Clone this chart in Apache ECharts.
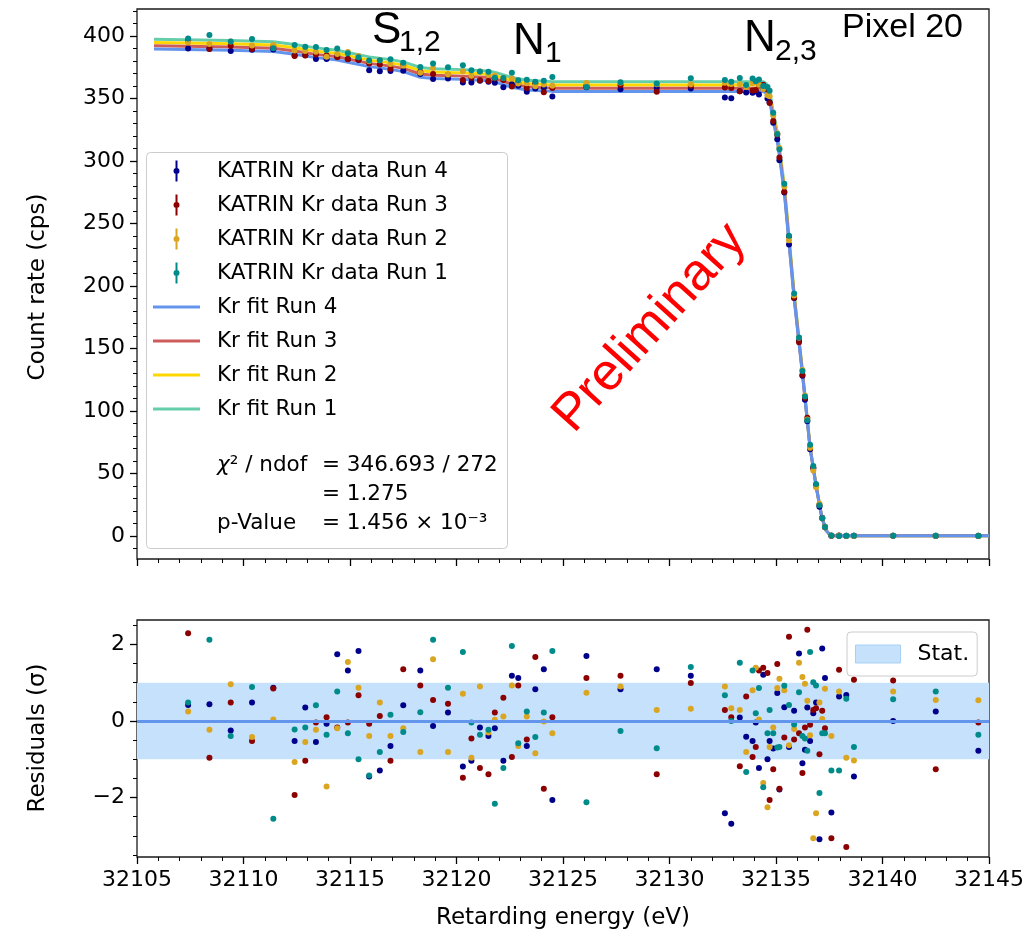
<!DOCTYPE html>
<html><head><meta charset="utf-8">
<script src="https://cdn.jsdelivr.net/npm/echarts@6/dist/echarts.min.js"></script>
<style>html,body{margin:0;padding:0;background:#fff}#c{width:1036px;height:939px}</style>
</head><body><div id="c"></div>
<script>
// ---------- data ----------
const energy = [32107.4,32108.4,32109.4,32110.4,32111.4,32112.4,32112.9,32113.4,32113.9,32114.4,
32114.9,32115.4,32115.9,32116.4,32116.9,32117.5,32118.3,32118.9,32119.6,32120.3,
32120.7,32121.1,32121.5,32121.8,32122.2,32122.6,32122.9,32123.3,32123.7,32124.1,
32124.5,32126.1,32127.7,32129.4,32131.0,32132.6,32132.9,32133.3,32133.6,32133.9,
32134.05,32134.2,32134.4,32134.6,32134.7,32134.87,32135.06,32135.16,32135.39,32135.61,
32135.85,32136.08,32136.24,32136.36,32136.47,32136.6,32136.75,32136.88,32137.04,32137.17,
32137.3,32137.6,32137.96,32138.3,32138.66,32140.5,32142.5,32144.5];

const rateRun4 = [390.0,389.8,388.1,389.1,389.3,384.4,384.7,381.6,381.6,384.3,
381.6,380.9,372.6,371.8,372.0,372.3,369.6,365.7,366.0,362.9,
362.8,364.3,363.4,362.7,359.0,361.4,360.3,355.5,358.1,358.7,
351.6,359.1,357.4,358.4,358.1,350.9,350.3,355.9,354.9,354.7,
355.6,353.2,358.1,350.0,347.0,330.6,317.4,300.7,274.9,233.2,
190.4,156.7,128.3,109.0,91.9,69.5,54.2,40.4,23.5,14.7,
7.4,0.3,0.3,0.3,0.2,0.2,0.2,0.1];
const rateRun3 = [396.4,389.6,392.2,389.7,391.9,384.1,384.5,385.2,384.5,383.1,
381.5,381.1,378.0,377.3,373.8,376.8,371.5,369.7,369.1,364.9,
366.6,364.7,364.0,366.1,364.9,359.7,362.6,358.4,362.3,355.1,
358.5,360.5,360.7,355.5,360.3,358.9,358.5,355.9,359.6,356.4,
356.9,360.9,361.1,357.1,346.4,332.0,321.1,302.9,275.5,239.6,
190.7,155.1,128.9,110.4,94.6,70.4,54.6,40.6,24.8,14.2,
7.1,0.3,0.4,0.1,0.3,0.3,0.1,0.2];
const rateRun2 = [394.9,393.6,395.7,392.5,392.9,388.5,388.1,387.4,383.5,385.6,
387.3,384.1,379.9,380.6,377.7,376.3,370.6,374.4,369.2,371.9,
368.2,371.6,368.8,368.4,366.5,366.1,362.0,362.2,359.9,361.2,
360.3,362.4,362.7,361.5,361.5,362.7,361.6,361.5,359.3,362.5,
363.7,361.0,357.7,352.7,351.8,336.6,322.2,310.4,279.7,236.7,
192.5,158.7,132.9,112.5,93.3,70.7,52.4,39.1,25.8,14.2,
7.4,0.5,0.2,0.2,0.1,0.3,0.3,0.3];
const rateRun1 = [398.0,400.9,395.6,397.7,390.3,392.8,391.5,391.3,388.8,390.1,
386.2,383.0,380.5,380.6,381.4,378.7,375.3,378.0,375.1,376.7,
372.6,371.7,371.5,366.6,366.4,370.7,364.7,365.1,363.4,364.2,
367.2,359.3,363.0,362.1,366.3,364.8,363.5,366.5,360.8,366.1,
363.9,365.2,360.0,359.2,356.2,338.7,321.6,309.4,281.9,240.2,
194.1,158.8,132.0,111.7,92.7,73.1,56.0,41.6,24.7,14.2,
7.2,0.4,0.1,0.3,0.2,0.3,0.3,0.2];

const resRun4 = [0.42,0.44,-0.25,0.48,0.87,-0.52,0.35,-0.55,-0.07,1.74,
1.32,1.83,-1.45,-1.29,-0.65,0.41,1.32,-0.13,0.22,-1.19,
-1.04,-0.17,-0.39,-0.19,-1.04,1.18,1.12,-0.65,0.83,1.35,
-2.06,1.70,0.83,1.35,1.18,-2.41,-2.68,0.09,-0.41,-0.52,
-0.04,-1.23,1.21,-1.0,-0.52,-0.72,0.73,-1.79,0.36,-0.68,
0.27,1.76,-1.10,-0.75,0.35,-0.52,0.20,0.48,-3.09,1.89,
1.12,-2.39,0.64,0.68,-1.45,0.0,0.25,-0.78];
const resRun3 = [2.29,-0.96,0.48,-0.52,0.85,-1.93,-1.04,-0.04,0.10,-0.17,
-0.04,0.67,-0.07,0.13,-1.04,1.35,0.93,0.55,0.45,-1.48,
-0.46,-1.23,-1.39,0.22,0.61,-0.94,0.93,-0.48,1.67,-1.77,
0.10,1.12,1.18,-1.39,0.99,0.29,0.10,-1.18,0.64,-0.94,
-0.68,1.32,1.39,1.25,-2.06,-1.26,1.49,-1.77,-0.43,2.20,
-0.48,-0.32,-1.36,-0.17,2.38,-0.10,0.29,0.33,-0.87,0.27,
-0.19,-3.06,1.34,-3.29,1.08,1.06,-1.26,-0.04];
const resRun2 = [0.25,-0.23,0.96,-0.42,0.04,-1.07,-0.55,-0.23,-1.71,-0.19,
1.54,0.87,-0.39,0.48,-0.39,-0.19,-0.81,1.61,-0.81,0.71,
-0.96,0.90,-0.30,0.03,0.12,0.93,-0.65,0.12,-0.84,-0.01,
-0.32,0.74,0.90,0.29,0.32,0.90,0.33,0.29,-0.81,0.80,
1.39,0.04,-1.62,-2.25,-0.68,-0.17,0.86,1.10,0.80,-0.63,
-0.21,1.52,1.15,0.97,0.53,-0.37,-3.06,-2.41,0.48,0.05,
0.84,-0.39,0.77,-0.96,-1.03,0.77,0.55,0.54];
const resRun1 = [0.48,2.12,-0.39,0.89,-2.55,-0.22,-0.17,0.41,-0.36,0.77,
-0.32,-1.0,-1.42,-0.81,0.16,-0.29,0.23,2.12,0.87,1.80,
-0.04,-0.36,-0.23,-2.16,-1.23,1.96,-0.58,0.25,-0.42,0.22,
1.83,-2.12,-0.26,-0.71,1.41,0.67,0.0,1.52,-1.33,1.32,
0.2,0.86,-1.73,-0.32,0.29,-0.32,-0.69,-0.68,0.92,0.42,
-0.09,0.75,-0.39,-0.46,-0.78,1.80,1.01,0.93,-1.88,-0.32,
-0.32,-1.29,-1.29,0.58,-0.68,0.57,0.77,-0.36];

const fitEnergy = [32105.8,32109.4,32111.4,32112.4,32113.4,32114.4,32114.9,32115.9,32116.9,32117.5,
32118.3,32118.9,32120.3,32121.5,32121.9,32122.6,32123.3,32124.5,32134.4,32134.55,
32134.7,32134.87,32135.06,32135.16,32135.4,32135.85,32136.25,32136.6,32136.9,32137.15,
32137.35,32137.55,32137.8,32145];
const fitRun4 = [389.6,388.6,387.6,385.4,382.7,380.8,379.0,375.5,373.3,371.5,
367.0,366.0,365.3,364.2,362.7,359.0,356.8,355.7,355.7,354.0,
348.0,332.0,316.0,304.0,273.0,190.0,128.0,70.0,38.0,15.0,
4.5,0.6,0.2,0.2];
const fitRun3 = [392.2,391.2,390.2,388.0,385.3,383.4,381.6,378.1,375.9,374.1,
369.6,368.6,367.9,366.8,365.3,361.6,359.4,358.3,358.3,356.6,
350.5,334.4,318.3,306.2,275.0,191.4,128.9,70.5,38.3,15.1,
4.5,0.6,0.2,0.2];
const fitRun2 = [394.8,393.8,392.8,390.6,387.9,386.0,384.2,380.7,378.5,376.7,
372.2,371.2,370.5,369.4,367.9,364.2,362.0,360.9,360.9,359.2,
353.1,336.9,320.6,308.4,277.0,192.8,129.9,71.0,38.6,15.2,
4.6,0.6,0.2,0.2];
const fitRun1 = [397.4,396.4,395.4,393.2,390.5,388.6,386.8,383.3,381.1,379.3,
374.8,373.8,373.1,372.0,370.5,366.8,364.6,363.5,363.5,361.8,
355.6,339.3,322.9,310.7,279.0,194.2,130.8,71.5,38.8,15.3,
4.6,0.6,0.2,0.2];

const countTicks = [0,50,100,150,200,250,300,350,400];
const countMinorTicks = [-10,10,20,30,40,60,70,80,90,110,120,130,140,160,170,180,190,210,220,230,240,260,270,280,290,310,320,330,340,360,370,380,390,410,420];
const residualTicks = [-2,0,2];
const residualMinorTicks = [-3.5,-3,-2.5,-1.5,-1,-0.5,0.5,1,1.5,2.5];

// ---------- styling ----------
const FONT = 'DejaVu Sans';
const SANS = 'Liberation Sans';
const dataColors = {4:'#00008B',3:'#8B0000',2:'#DAA520',1:'#008B8B'};
const fitColors = {4:'#6495ED',3:'#CD5C5C',2:'#FFD700',1:'#66CDAA'};
const rates = {4:rateRun4,3:rateRun3,2:rateRun2,1:rateRun1};
const resids = {4:resRun4,3:resRun3,2:resRun2,1:resRun1};
const fits = {4:fitRun4,3:fitRun3,2:fitRun2,1:fitRun1};
const zip = (xs, ys) => xs.map((x, i) => [x, ys[i]]);
const minus = v => (v < 0 ? '\u2212' + Math.abs(v) : String(v));

const dataIcon = 'path://M22.5,0h2v21h-2z M20.5,10.5a3,3 0 1,1 6,0a3,3 0 1,1 -6,0z M0,0l0.01,0 M47,21l-0.01,0';
const lineIcon = 'path://M0,9h47v3h-47z M0,0l0.01,0 M47,21l-0.01,0';

const series = [];
[1,2,3,4].forEach(r => series.push({
  name: 'Kr fit Run ' + r, type: 'line', xAxisIndex: 0, yAxisIndex: 0,
  data: zip(fitEnergy, fits[r]), showSymbol: false, symbol: 'none',
  color: fitColors[r], lineStyle: {width: 3, color: fitColors[r]}, z: 2, silent: true
}));
[4,3,2,1].forEach(r => series.push({
  name: 'KATRIN Kr data Run ' + r, type: 'scatter', xAxisIndex: 0, yAxisIndex: 0,
  data: zip(energy, rates[r]), symbolSize: 6, color: dataColors[r],
  itemStyle: {color: dataColors[r], opacity: 1}, z: 4, silent: true
}));
series.push({
  name: 'Stat.', type: 'line', xAxisIndex: 1, yAxisIndex: 2, data: [], color: '#c5e1fb', z: 1,
  markArea: {silent: true, itemStyle: {color: '#c5e1fb'}, data: [[{yAxis: -1}, {yAxis: 1}]]},
  markLine: {silent: true, symbol: 'none', label: {show: false},
    lineStyle: {color: '#6495ED', width: 3, type: 'solid'}, data: [{yAxis: 0}]}
});
[4,3,2,1].forEach(r => series.push({
  name: 'res' + r, type: 'scatter', xAxisIndex: 1, yAxisIndex: 2,
  data: zip(energy, resids[r]), symbolSize: 6, itemStyle: {color: dataColors[r], opacity: 1}, z: 4, silent: true
}));

const tickStyle = {color: '#000', width: 1.3};
const label = (extra) => Object.assign({fontFamily: FONT, fontSize: 22, color: '#000', margin: 12}, extra);

const option = {
  animation: false,
  backgroundColor: '#fff',
  grid: [
    {left: 137, top: 9, width: 852, height: 550, show: true, borderColor: '#1a1a1a', borderWidth: 1.3, backgroundColor: 'transparent'},
    {left: 137, top: 620, width: 852, height: 237, show: true, borderColor: '#1a1a1a', borderWidth: 1.3, backgroundColor: 'transparent'}
  ],
  xAxis: [
    {gridIndex: 0, type: 'value', min: 32105, max: 32145, interval: 5,
     axisLine: {show: false, onZero: false}, axisLabel: {show: false},
     axisTick: {show: true, length: 7, lineStyle: tickStyle},
     minorTick: {show: true, splitNumber: 5, length: 4, lineStyle: {color: '#000', width: 1}},
     splitLine: {show: false}},
    {gridIndex: 1, type: 'value', min: 32105, max: 32145, interval: 5,
     axisLine: {show: false, onZero: false}, axisLabel: label({formatter: v => String(v)}),
     axisTick: {show: true, length: 7, lineStyle: tickStyle},
     minorTick: {show: true, splitNumber: 5, length: 4, lineStyle: {color: '#000', width: 1}},
     splitLine: {show: false}}
  ],
  yAxis: [
    {gridIndex: 0, type: 'value', position: 'left', min: -18.4, max: 421.6,
     axisLine: {show: false, onZero: false}, splitLine: {show: false},
     axisLabel: label({customValues: countTicks, formatter: v => String(v)}),
     axisTick: {show: true, length: 7, lineStyle: tickStyle, customValues: countTicks}},
    {gridIndex: 0, type: 'value', position: 'left', min: -18.4, max: 421.6,
     axisLine: {show: false, onZero: false}, splitLine: {show: false},
     axisLabel: {show: false, customValues: []},
     axisTick: {show: true, length: 4, lineStyle: {color: '#000', width: 1}, customValues: countMinorTicks}},
    {gridIndex: 1, type: 'value', position: 'left', min: -3.551, max: 2.637,
     axisLine: {show: false, onZero: false}, splitLine: {show: false},
     axisLabel: label({customValues: residualTicks, formatter: minus}),
     axisTick: {show: true, length: 7, lineStyle: tickStyle, customValues: residualTicks}},
    {gridIndex: 1, type: 'value', position: 'left', min: -3.551, max: 2.637,
     axisLine: {show: false, onZero: false}, splitLine: {show: false},
     axisLabel: {show: false, customValues: []},
     axisTick: {show: true, length: 4, lineStyle: {color: '#000', width: 1}, customValues: residualMinorTicks}}
  ],
  legend: [
    {orient: 'vertical', left: 153, top: 160, itemWidth: 47, itemHeight: 21, itemGap: 12, padding: 0,
     selectedMode: false, itemStyle: {borderWidth: 0},
     formatter: '{p|{name}}',
     textStyle: {fontFamily: FONT, fontSize: 21.5, color: '#000',
       rich: {p: {fontFamily: FONT, fontSize: 21.5, color: '#000', padding: [0, 0, 0, 12]}}},
     data: [
       {name: 'KATRIN Kr data Run 4', icon: dataIcon},
       {name: 'KATRIN Kr data Run 3', icon: dataIcon},
       {name: 'KATRIN Kr data Run 2', icon: dataIcon},
       {name: 'KATRIN Kr data Run 1', icon: dataIcon},
       {name: 'Kr fit Run 4', icon: lineIcon},
       {name: 'Kr fit Run 3', icon: lineIcon},
       {name: 'Kr fit Run 2', icon: lineIcon},
       {name: 'Kr fit Run 1', icon: lineIcon}
     ]},
    {orient: 'vertical', left: 847, top: 632, itemWidth: 45, itemHeight: 18, padding: [11, 8, 11, 8],
     selectedMode: false, backgroundColor: 'rgba(255,255,255,0.85)', borderColor: '#cccccc', borderWidth: 1, borderRadius: 4,
     formatter: '{p|{name}}',
     textStyle: {fontFamily: FONT, fontSize: 22, color: '#000',
       rich: {p: {fontFamily: FONT, fontSize: 22, color: '#000', padding: [0, 0, 0, 12]}}},
     data: [{name: 'Stat.', icon: 'rect', itemStyle: {color: '#c5e1fb', borderColor: '#a9d1f5', borderWidth: 1}}]}
  ],
  graphic: [
    {type: 'rect', z: 0, shape: {x: 146.5, y: 152.5, width: 361, height: 396, r: 4},
     style: {fill: 'rgba(255,255,255,0.85)', stroke: '#cccccc', lineWidth: 1}},
    {type: 'text', x: 217, y: 465, style: {text: '{i|χ}² / ndof', fontFamily: FONT, fontSize: 21.5, fill: '#000', verticalAlign: 'middle',
      rich: {i: {fontFamily: FONT, fontSize: 21.5, fontStyle: 'italic', fill: '#000'}}}},
    {type: 'text', x: 322, y: 465, style: {text: '= 346.693 / 272', fontFamily: FONT, fontSize: 21.5, fill: '#000', verticalAlign: 'middle'}},
    {type: 'text', x: 322, y: 494, style: {text: '= 1.275', fontFamily: FONT, fontSize: 21.5, fill: '#000', verticalAlign: 'middle'}},
    {type: 'text', x: 217, y: 523, style: {text: 'p-Value', fontFamily: FONT, fontSize: 21.5, fill: '#000', verticalAlign: 'middle'}},
    {type: 'text', x: 322, y: 523, style: {text: '= 1.456 × 10⁻³', fontFamily: FONT, fontSize: 21.5, fill: '#000', verticalAlign: 'middle'}},
    // axis titles
    {type: 'text', x: 38, y: 287, rotation: Math.PI / 2, style: {text: 'Count rate (cps)', fontFamily: FONT, fontSize: 23, fill: '#000', align: 'center', verticalAlign: 'middle'}},
    {type: 'text', x: 38, y: 738, rotation: Math.PI / 2, style: {text: 'Residuals (σ)', fontFamily: FONT, fontSize: 23, fill: '#000', align: 'center', verticalAlign: 'middle'}},
    {type: 'text', x: 563, y: 918, style: {text: 'Retarding energy (eV)', fontFamily: FONT, fontSize: 23, fill: '#000', align: 'center', verticalAlign: 'middle'}},
    // line annotations
    {type: 'text', x: 372, y: 31, style: {text: 'S', fontFamily: SANS, fontSize: 44, fill: '#000', verticalAlign: 'middle'}},
    {type: 'text', x: 399, y: 43, style: {text: '1,2', fontFamily: SANS, fontSize: 30, fill: '#000', verticalAlign: 'middle'}},
    {type: 'text', x: 513, y: 42, style: {text: 'N', fontFamily: SANS, fontSize: 44, fill: '#000', verticalAlign: 'middle'}},
    {type: 'text', x: 545, y: 54, style: {text: '1', fontFamily: SANS, fontSize: 30, fill: '#000', verticalAlign: 'middle'}},
    {type: 'text', x: 744, y: 39, style: {text: 'N', fontFamily: SANS, fontSize: 44, fill: '#000', verticalAlign: 'middle'}},
    {type: 'text', x: 775, y: 52, style: {text: '2,3', fontFamily: SANS, fontSize: 30, fill: '#000', verticalAlign: 'middle'}},
    {type: 'text', x: 842, y: 28, style: {text: 'Pixel 20', fontFamily: SANS, fontSize: 34, fill: '#000', verticalAlign: 'middle'}},
    {type: 'text', x: 650, y: 328, rotation: 48 * Math.PI / 180, z: 10,
     style: {text: 'Preliminary', fontFamily: SANS, fontSize: 52, fill: '#ff0000', align: 'center', verticalAlign: 'middle'}}
  ],
  series: series
};
const chart = echarts.init(document.getElementById('c'), null, {renderer: 'canvas'});
chart.setOption(option);
</script></body></html>
